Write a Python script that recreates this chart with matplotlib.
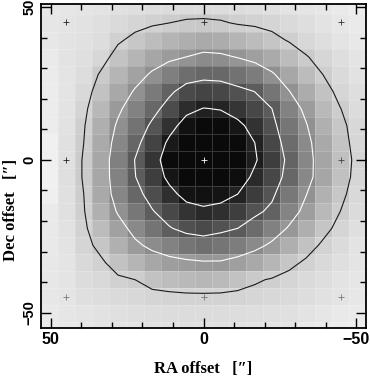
import numpy as np
import matplotlib
matplotlib.use("Agg")
import matplotlib.pyplot as plt
from matplotlib.colors import LinearSegmentedColormap, Normalize
from matplotlib.ticker import MultipleLocator

# map grid: 19 x 20 pixels of 5.6" (pixel centres)
pix = 5.6
ra = np.linspace(50.4, -50.4, 19)
dec = np.linspace(50.4, -56.0, 20)

# intensity map, rows from north (top) to south (bottom), columns east -> west
tmb = np.array([
    [0.55, 0.57, 0.60, 0.62, 0.66, 0.70, 0.72, 0.74, 0.74, 0.74, 0.74, 0.72, 0.70, 0.66, 0.62, 0.58, 0.54, 0.50, 0.47],
    [0.57, 0.60, 0.63, 0.68, 0.78, 0.87, 0.94, 1.00, 1.07, 1.09, 1.05, 0.96, 0.92, 0.86, 0.76, 0.70, 0.62, 0.55, 0.50],
    [0.55, 0.62, 0.65, 0.72, 0.94, 1.11, 1.28, 1.44, 1.54, 1.61, 1.57, 1.44, 1.31, 1.14, 0.96, 0.82, 0.70, 0.60, 0.53],
    [0.50, 0.62, 0.68, 0.83, 1.17, 1.43, 1.69, 1.88, 2.01, 2.16, 2.12, 1.98, 1.81, 1.60, 1.31, 1.03, 0.85, 0.70, 0.60],
    [0.48, 0.60, 0.72, 1.05, 1.42, 1.75, 2.08, 2.36, 2.67, 2.79, 2.76, 2.60, 2.41, 2.07, 1.68, 1.31, 0.99, 0.78, 0.64],
    [0.47, 0.60, 0.80, 1.21, 1.66, 2.06, 2.45, 2.87, 3.28, 3.41, 3.36, 3.17, 2.99, 2.54, 2.02, 1.58, 1.20, 0.85, 0.70],
    [0.46, 0.62, 0.89, 1.37, 1.89, 2.32, 2.77, 3.26, 3.80, 4.02, 3.96, 3.65, 3.33, 3.00, 2.32, 1.86, 1.36, 1.01, 0.74],
    [0.46, 0.64, 0.96, 1.52, 2.09, 2.58, 3.12, 3.73, 4.30, 4.45, 4.40, 4.20, 3.70, 3.18, 2.53, 2.04, 1.50, 1.11, 0.82],
    [0.39, 0.66, 1.00, 1.61, 2.23, 2.80, 3.42, 4.15, 4.45, 4.65, 4.55, 4.40, 4.00, 3.35, 2.70, 2.18, 1.62, 1.17, 0.85],
    [0.39, 0.67, 1.04, 1.67, 2.34, 3.02, 3.65, 4.40, 4.65, 4.75, 4.65, 4.45, 4.08, 3.50, 2.83, 2.22, 1.70, 1.24, 0.88],
    [0.40, 0.68, 1.04, 1.67, 2.32, 2.98, 3.50, 4.20, 4.50, 4.60, 4.50, 4.35, 3.86, 3.33, 2.78, 2.21, 1.69, 1.22, 0.85],
    [0.41, 0.67, 1.00, 1.64, 2.24, 2.79, 3.24, 3.76, 4.26, 4.30, 4.25, 4.00, 3.53, 3.12, 2.50, 2.02, 1.49, 1.11, 0.80],
    [0.50, 0.66, 0.97, 1.51, 2.06, 2.51, 2.96, 3.32, 3.69, 3.88, 3.77, 3.50, 3.15, 2.86, 2.28, 1.83, 1.35, 1.00, 0.75],
    [0.51, 0.64, 0.92, 1.30, 1.77, 2.19, 2.57, 2.95, 3.19, 3.29, 3.16, 3.00, 2.69, 2.33, 1.94, 1.53, 1.14, 0.86, 0.68],
    [0.52, 0.62, 0.86, 1.12, 1.50, 1.88, 2.14, 2.32, 2.55, 2.64, 2.55, 2.39, 2.17, 1.89, 1.52, 1.19, 0.92, 0.75, 0.62],
    [0.53, 0.60, 0.80, 0.93, 1.19, 1.42, 1.68, 1.82, 1.88, 1.94, 1.94, 1.80, 1.62, 1.41, 1.12, 0.93, 0.80, 0.68, 0.60],
    [0.54, 0.60, 0.74, 0.80, 0.93, 1.00, 1.18, 1.28, 1.35, 1.39, 1.34, 1.21, 1.06, 0.96, 0.86, 0.78, 0.70, 0.62, 0.56],
    [0.55, 0.58, 0.68, 0.72, 0.78, 0.82, 0.86, 0.88, 0.90, 0.90, 0.90, 0.88, 0.85, 0.82, 0.78, 0.72, 0.65, 0.60, 0.55],
    [0.52, 0.56, 0.60, 0.64, 0.67, 0.70, 0.72, 0.73, 0.74, 0.74, 0.73, 0.72, 0.70, 0.68, 0.66, 0.62, 0.56, 0.52, 0.50],
    [0.50, 0.54, 0.57, 0.60, 0.62, 0.64, 0.66, 0.67, 0.67, 0.66, 0.66, 0.65, 0.64, 0.62, 0.60, 0.52, 0.50, 0.48, 0.46],
])

levels = [1, 2, 3, 4]
level_colors = ["#1a1a1a", "white", "white", "white"]

# observed positions (+)
pos_ra = [45, 0, -45, 45, -45, 45, 0, -45]
pos_dec = [45, 45, 45, 0, 0, -45, -45, -45]
pos_col = ["#222222", "#222222", "#333333", "#222222", "#444444", "#777777", "#777777", "#777777"]

fig = plt.figure(figsize=(3.70, 3.76), dpi=100)
ax = fig.add_axes([41 / 370, 48 / 376, 325 / 370, 324 / 376])

cmap = LinearSegmentedColormap.from_list("map", ["#ffffff", "#0a0a0a"])
norm = Normalize(vmin=0.12, vmax=4.42)

ra_edges = np.append(ra + pix / 2, ra[-1] - pix / 2)
dec_edges = np.append(dec + pix / 2, dec[-1] - pix / 2)
ax.pcolormesh(ra_edges, dec_edges, tmb, cmap=cmap, norm=norm,
              edgecolors=(1, 1, 1, 0.18), linewidth=0.6, shading="flat")
ax.contour(ra, dec, tmb, levels=levels, colors=level_colors, linewidths=0.8)

for x, y, c in zip(pos_ra, pos_dec, pos_col):
    ax.plot(x, y, "+", color=c, ms=4, mew=0.6)
ax.plot(0, 0, "+", color="white", ms=4, mew=0.6)

ax.set_xlim(53.2, -53.2)
ax.set_ylim(-55, 51)

ax.set_xticks([50, 0, -50], labels=["50", "0", "\u221250"],
              fontsize=11.5, fontweight="bold", family="Liberation Sans")
ax.set_yticks([50, 0, -50], labels=["50", "0", "\u221250"], rotation=90,
              va="center", fontsize=10.5, fontweight="bold", family="Liberation Sans")
ax.xaxis.set_minor_locator(MultipleLocator(10))
ax.yaxis.set_minor_locator(MultipleLocator(10))
ax.tick_params(which="both", direction="in", top=True, right=True,
               width=1.0, color="black", pad=3)
ax.tick_params(which="major", length=7)
ax.tick_params(which="minor", length=4)
for s in ax.spines.values():
    s.set_linewidth(1.3)

label_font = dict(fontsize=12, fontweight="bold",
                  family=["Liberation Serif", "DejaVu Serif"])
fig.text(203.5 / 370, 3 / 376, "RA offset   [\u2033]", ha="center", va="baseline", **label_font)
fig.text(15 / 370, 166 / 376, "Dec offset   [\u2033]", rotation=90, rotation_mode="anchor",
         ha="center", va="baseline", **label_font)

fig.savefig("out.png", dpi=100)
